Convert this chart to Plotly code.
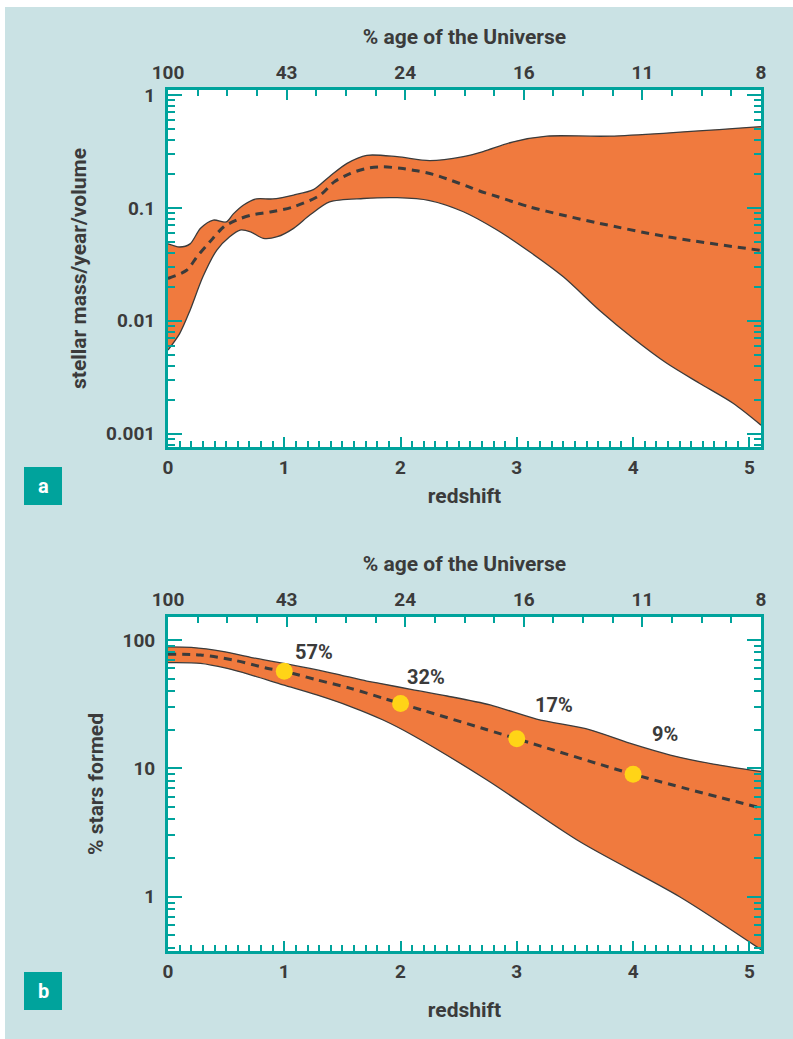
import math
import plotly.graph_objects as go

# ---- Panel a: cosmic star-formation rate density (stellar mass / year / volume) ----
sfr_upper_z = [0.00, 0.10, 0.19, 0.28, 0.39, 0.50, 0.56, 0.65, 0.76, 0.90, 1.08, 1.25,
               1.39, 1.54, 1.71, 1.97, 2.25, 2.54, 2.71, 2.97, 3.26, 3.80, 5.10]
sfr_upper = [0.048, 0.045, 0.048, 0.066, 0.078, 0.075, 0.088, 0.106, 0.120, 0.120, 0.130, 0.145,
             0.190, 0.248, 0.292, 0.284, 0.262, 0.284, 0.315, 0.385, 0.432, 0.432, 0.525]

sfr_lower_z = [0.00, 0.10, 0.19, 0.30, 0.42, 0.53, 0.62, 0.71, 0.82, 0.94, 1.08, 1.22, 1.39,
               1.68, 1.97, 2.25, 2.54, 2.83, 3.11, 3.40, 3.71, 4.00, 4.29, 4.57, 4.86, 5.10]
sfr_lower = [0.0055, 0.0077, 0.0124, 0.0245, 0.0423, 0.0555, 0.0636, 0.0614, 0.0537, 0.0555,
             0.0658, 0.0863, 0.113, 0.121, 0.123, 0.116, 0.0924, 0.0636, 0.0408, 0.0245,
             0.0124, 0.0070, 0.0042, 0.0028, 0.00186, 0.00119]

sfr_mid_z = [0.00, 0.16, 0.25, 0.36, 0.48, 0.59, 0.71, 0.88, 1.08, 1.31, 1.43, 1.57, 1.71,
             1.85, 2.00, 2.14, 2.28, 2.43, 2.57, 2.68, 2.83, 2.97, 3.11, 3.37, 3.71, 4.29, 5.10]
sfr_mid = [0.0237, 0.028, 0.037, 0.050, 0.068, 0.078, 0.086, 0.092, 0.102, 0.130, 0.170,
           0.202, 0.224, 0.231, 0.224, 0.213, 0.198, 0.176, 0.156, 0.141, 0.126, 0.113,
           0.102, 0.0875, 0.073, 0.0555, 0.042]

sfr_tickvals = [0.001, 0.01, 0.1, 1]
sfr_ticktext = ["0.001", "0.01", "0.1", "1"]

# ---- Panel b: percentage of today's stars already formed ----
frac_upper_z = [0.00, 0.20, 0.48, 0.71, 0.91, 1.14, 1.42, 1.71, 1.82, 2.10, 2.40, 2.77,
                3.17, 3.63, 3.97, 4.32, 4.69, 5.10]
frac_upper = [88.5, 87.7, 81.2, 73.3, 67.8, 62.0, 55.0, 47.8, 46.0, 41.0, 36.6, 31.2,
              24.2, 19.95, 15.7, 12.7, 10.8, 9.45]

frac_lower_z = [0.00, 0.28, 0.50, 0.71, 0.99, 1.28, 1.57, 1.85, 2.10, 2.74, 3.54, 4.40, 5.10]
frac_lower = [66.6, 65.8, 60.3, 53.5, 44.7, 37.3, 30.3, 23.8, 18.2, 8.15, 2.69, 1.0, 0.387]

frac_mid_z = [0.00, 0.28, 0.56, 0.85, 1.00, 1.28, 1.57, 1.85, 2.00, 3.00, 4.00, 5.10]
frac_mid = [77.5, 76.4, 69.8, 60.3, 57.0, 48.9, 42.0, 35.2, 32.0, 17.0, 9.0, 4.9]

# highlighted epochs and the share of stars formed by then
epoch_z = [1, 2, 3, 4]
epoch_pct = [57, 32, 17, 9]

frac_tickvals = [1, 10, 100]
frac_ticktext = ["1", "10", "100"]

# shared axes
redshift_ticks = [0, 1, 2, 3, 4, 5]
age_ticktext = ["100", "43", "24", "16", "11", "8"]
age_slots = [0, 1, 2, 3, 4, 5]

# ---- styling ----
TEAL = "#00a39c"
BG = "#cae2e4"
ORANGE = "#f07a3e"
INK = "#3b3b3b"
DOT = "#ffd417"
FONT = "Roboto"

W, H = 793, 1039
def px_x(p):
    return p / W
def px_y(p):
    return 1 - p / H

x_dom = [px_x(168), px_x(761)]
a_dom = [px_y(447), px_y(90)]
b_dom = [px_y(951), px_y(617)]

def log_minor(lo, hi):
    vals = []
    for e in range(lo, hi + 1):
        for m in range(2, 10):
            vals.append(m * 10 ** e)
    return vals

fig = go.Figure()

def band(z_lo, lo, z_hi, hi, z_mid, mid, xa, ya):
    fig.add_trace(go.Scatter(x=z_lo, y=lo, mode="lines", xaxis=xa, yaxis=ya,
                             line=dict(color=INK, width=1.3, shape="spline", smoothing=0.8),
                             showlegend=False, hoverinfo="skip"))
    fig.add_trace(go.Scatter(x=z_hi, y=hi, mode="lines", xaxis=xa, yaxis=ya,
                             fill="tonexty", fillcolor=ORANGE,
                             line=dict(color=INK, width=1.3, shape="spline", smoothing=0.8),
                             showlegend=False, hoverinfo="skip"))
    fig.add_trace(go.Scatter(x=z_mid, y=mid, mode="lines", xaxis=xa, yaxis=ya,
                             line=dict(color=INK, width=3, dash="8px,6px",
                                       shape="spline", smoothing=0.8),
                             showlegend=False, hoverinfo="skip"))

band(sfr_lower_z, sfr_lower, sfr_upper_z, sfr_upper, sfr_mid_z, sfr_mid, "x", "y")
band(frac_lower_z, frac_lower, frac_upper_z, frac_upper, frac_mid_z, frac_mid, "x3", "y2")

fig.add_trace(go.Scatter(x=epoch_z, y=epoch_pct, mode="markers", xaxis="x3", yaxis="y2",
                         marker=dict(color=DOT, size=17, line=dict(width=0)),
                         showlegend=False, hoverinfo="skip"))

# carriers for the top (age) axes
fig.add_trace(go.Scatter(x=[age_slots[0], age_slots[-1]], y=[0.01, 0.01], xaxis="x2", yaxis="y",
                         mode="markers", marker=dict(opacity=0), showlegend=False, hoverinfo="skip"))
fig.add_trace(go.Scatter(x=[age_slots[0], age_slots[-1]], y=[10, 10], xaxis="x4", yaxis="y2",
                         mode="markers", marker=dict(opacity=0), showlegend=False, hoverinfo="skip"))

tick_font = dict(family=FONT, size=19, color=INK, weight=700)
title_font = dict(family=FONT, size=21, color=INK, weight=700)

def bottom_axis(anchor, title_gap):
    return dict(domain=x_dom, anchor=anchor, range=[0, 5.1], automargin=False,
                tickmode="array", tickvals=redshift_ticks,
                ticks="inside", ticklen=10, tickwidth=2, tickcolor=TEAL,
                minor=dict(ticks="inside", ticklen=6, tickwidth=2, tickcolor=TEAL,
                           dtick=0.1, tick0=0, showgrid=False),
                showline=True, linecolor=TEAL, linewidth=3, mirror=False,
                showgrid=False, zeroline=False, tickfont=tick_font, ticklabelstandoff=1,
                title=dict(text="redshift", font=title_font, standoff=title_gap))

def top_axis(over, anchor):
    return dict(overlaying=over, anchor=anchor, side="top", range=[0, 5], automargin=False,
                tickmode="array", tickvals=age_slots, ticktext=age_ticktext,
                ticks="inside", ticklen=10, tickwidth=2, tickcolor=TEAL,
                minor=dict(ticks="inside", ticklen=6, tickwidth=2, tickcolor=TEAL,
                           dtick=0.25, tick0=0, showgrid=False),
                showline=True, linecolor=TEAL, linewidth=3,
                showgrid=False, zeroline=False, tickfont=tick_font, ticklabelstandoff=0,
                title=dict(text="% age of the Universe", font=title_font, standoff=12))

def log_axis(anchor, dom, rng, tv, tt, title, lo, hi):
    return dict(domain=dom, anchor=anchor, type="log", range=rng, automargin=False,
                tickmode="array", tickvals=tv, ticktext=tt,
                ticks="inside", ticklen=14, tickwidth=2, tickcolor=TEAL,
                minor=dict(ticks="inside", ticklen=7, tickwidth=2, tickcolor=TEAL,
                           tickmode="array", tickvals=log_minor(lo, hi), showgrid=False),
                showline=True, linecolor=TEAL, linewidth=3, mirror="ticks",
                showgrid=False, zeroline=False, tickfont=tick_font, ticklabelstandoff=6,
                title=dict(text=title, font=title_font, standoff=14))

fig.update_layout(
    width=W, height=H,
    margin=dict(l=0, r=0, t=0, b=0),
    paper_bgcolor=BG, plot_bgcolor="white",
    font=dict(family=FONT, color=INK),
    xaxis=bottom_axis("y", 11),
    xaxis2=top_axis("x", "y"),
    yaxis=log_axis("x", a_dom, [-3.118, 0.044], sfr_tickvals, sfr_ticktext,
                   "stellar mass/year/volume", -4, 0),
    xaxis3=bottom_axis("y2", 21),
    xaxis4=top_axis("x3", "y2"),
    yaxis2=log_axis("x3", b_dom, [-0.423, 2.179], frac_tickvals, frac_ticktext,
                    "% stars formed", -1, 2),
)

# white page margin around the coloured panel
shapes = [
    dict(type="rect", xref="paper", yref="paper", x0=0, x1=px_x(5), y0=0, y1=1,
         fillcolor="white", line=dict(width=0), layer="below"),
    dict(type="rect", xref="paper", yref="paper", x0=0, x1=1, y0=px_y(7), y1=1,
         fillcolor="white", line=dict(width=0), layer="below"),
]
# panel letters
annotations = []
for letter, top in (("a", 467), ("b", 972)):
    shapes.append(dict(type="rect", xref="paper", yref="paper",
                       x0=px_x(24), x1=px_x(62), y0=px_y(top + 38), y1=px_y(top),
                       fillcolor=TEAL, line=dict(width=0)))
    annotations.append(dict(xref="paper", yref="paper", x=px_x(43), y=px_y(top + 19),
                            text=letter, showarrow=False, xanchor="center", yanchor="middle",
                            font=dict(family=FONT, size=20, color="white", weight=700)))

# percentage labels beside the epoch markers
label_shift = [(30, 19), (25, 27), (37, 34), (32, 40)]
for z, pct, (dx, dy) in zip(epoch_z, epoch_pct, label_shift):
    annotations.append(dict(xref="x3", yref="y2", x=z, y=math.log10(pct),
                            text=f"{pct}%", showarrow=False, xanchor="center", yanchor="middle",
                            xshift=dx, yshift=dy,
                            font=dict(family=FONT, size=20, color=INK, weight=700)))

fig.update_layout(shapes=shapes, annotations=annotations)

fig.write_html("out.html")
